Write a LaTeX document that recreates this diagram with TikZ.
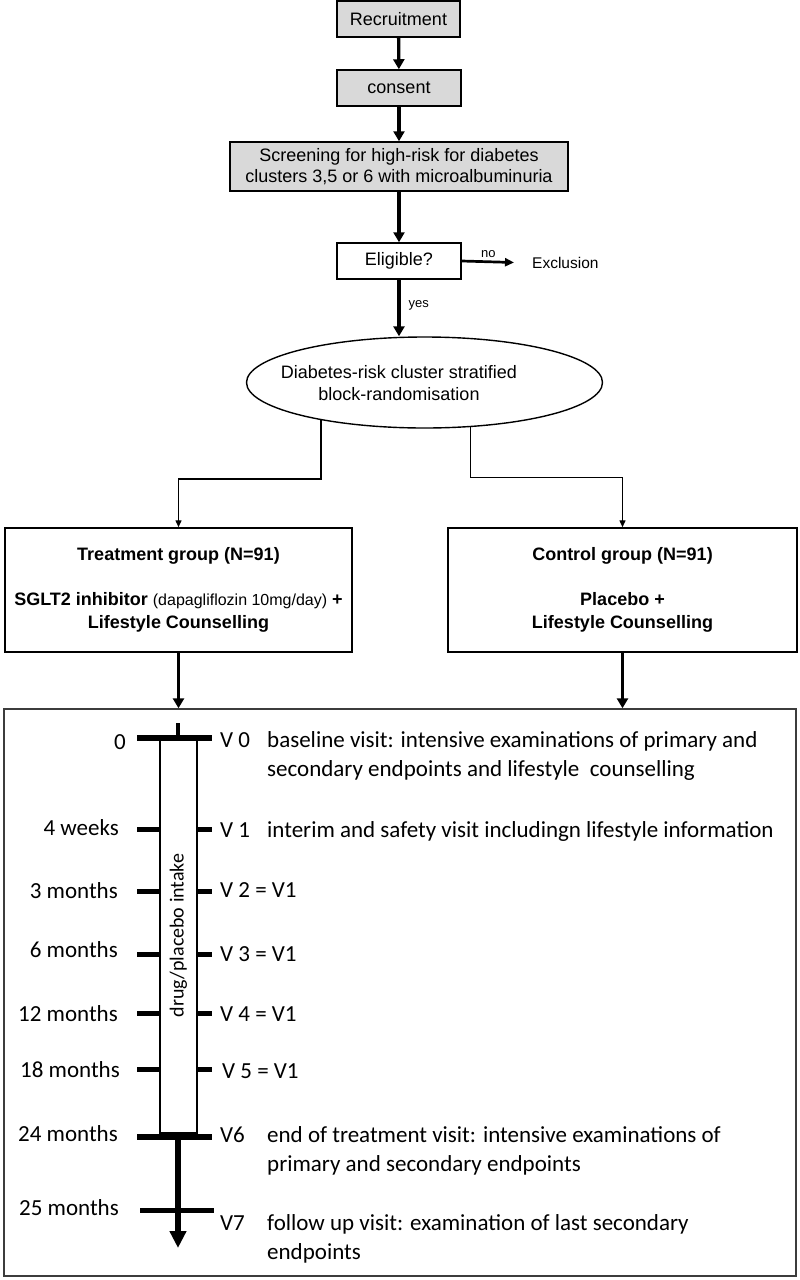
\documentclass[tikz,border=0pt]{standalone}
\usepackage{fontspec}
\setmainfont{Liberation Sans}
\newfontfamily\calfont{Carlito}
\usetikzlibrary{arrows.meta,shapes.geometric}
\definecolor{boxgray}{RGB}{217,217,217}
\definecolor{frame}{RGB}{60,60,60}
\begin{document}
\begin{tikzpicture}[x=1pt,y=-1pt,
  box/.style={draw=black, line width=1.5pt, inner sep=0pt, align=center,
    font=\fontsize{18}{21}\selectfont},
  graybox/.style={box, fill=boxgray},
  grpbox/.style={draw=black, line width=1.5pt, inner sep=0pt, align=center,
    font=\bfseries\fontsize{18}{22.5}\selectfont},
  arr/.style={line width=3.3pt, -{Triangle[length=10pt,width=11pt]}},
  midarr/.style={line width=2.7pt, -{Triangle[length=9pt,width=8pt]}},
  thinarr/.style={line width=1.4pt, -{Triangle[length=7pt,width=6pt]}},
  tickline/.style={line width=5pt},
  small/.style={font=\fontsize{13}{15}\selectfont, inner sep=0pt},
  leftlab/.style={anchor=base east, inner sep=0pt, font=\calfont\fontsize{23}{29}\selectfont},
  vlab/.style={anchor=base west, inner sep=0pt, font=\calfont\fontsize{23}{29}\selectfont},
  desc/.style={anchor=north west, inner sep=0pt, align=left, font=\calfont\fontsize{23}{29}\selectfont}
]
\useasboundingbox (0,0) rectangle (800,1280);

% top flow
\node[graybox, minimum width=123pt, minimum height=36pt] (rec) at (398.5,19) {Recruitment};
\node[graybox, minimum width=124pt, minimum height=36pt] (con) at (399,88) {consent};
\node[graybox, minimum width=338pt, minimum height=49pt] (scr) at (399,166.5)
  {Screening for high-risk for diabetes\\clusters 3,5 or 6 with microalbuminuria};
\node[box, fill=white, minimum width=124pt, minimum height=36pt] (eli) at (399,261) {Eligible?};
\node[anchor=west, inner sep=0pt, font=\fontsize{15.5}{18}\selectfont] (exc) at (532,263) {Exclusion};
\node[ellipse, draw=black, line width=1.4pt, minimum width=356pt, minimum height=91pt, inner sep=0pt] (ell) at (424.5,382.5) {};
\node[align=center, inner sep=0pt, font=\fontsize{18}{22}\selectfont] (elltxt) at (399,383)
  {Diabetes-risk cluster stratified\\block-randomisation};

\draw[arr] (rec) -- (con);
\draw[arr] (con) -- (scr);
\draw[arr] (scr) -- (eli);
\draw[midarr, shorten >=18pt] (eli.east) -- node[small, pos=0.38, anchor=base, yshift=4pt] {no} (exc.west);
\draw[arr] (eli.south) -- node[small, pos=0.45, anchor=west, xshift=8pt] {yes} (eli.south |- ell.north);

% groups
\node[grpbox, minimum width=347pt, minimum height=124pt] (trt) at (178.5,590)
  {Treatment group (N=91)\\[22.5pt]
   SGLT2 inhibitor {\mdseries\fontsize{16}{22.5}\selectfont(dapagliflozin 10mg/day)} +\\
   Lifestyle Counselling};
\node[grpbox, minimum width=349pt, minimum height=124pt] (ctl) at (622.5,590)
  {Control group (N=91)\\[22.5pt]
   Placebo +\\
   Lifestyle Counselling};

\draw[thinarr] (ell.200) -- ++(0,59) -| (trt.north);
\draw[thinarr] (ell.-44) -- ++(0,50.5) -| (ctl.north);

% timeline frame
\node[draw=frame, line width=1.4pt, minimum width=792pt, minimum height=567pt, inner sep=0pt] (big) at (400,992.5) {};
\draw[arr] (trt.south) -- (trt.south |- big.north);
\draw[arr] (ctl.south) -- (ctl.south |- big.north);

% drug bar
\node[draw=black, line width=2.6pt, rotate=90, minimum width=395pt, minimum height=37pt, inner sep=0pt,
  font=\calfont\fontsize{20}{24}\selectfont] (bar) at (178.5,935.5) {drug/placebo intake};

\draw[line width=4pt] (178,723) -- (178,738);
\draw[line width=6pt] (137,738) -- (212,738);
\foreach \yy in {829,891,954,1013,1069}{
  \draw[tickline] (137,\yy) -- (160,\yy);
  \draw[tickline] (197,\yy) -- (212,\yy);
}
\draw[line width=6pt, -{Triangle[length=17pt,width=16pt]}] (178,1133) -- (178,1248);
\draw[line width=6pt] (137,1137) -- (212,1137);
\draw[tickline] (140,1210) -- (214,1210);

% left labels
\node[leftlab] at (126,749) {0};
\node[leftlab] at (119,835) {4 weeks};
\node[leftlab] at (118,898) {3 months};
\node[leftlab] at (118,957) {6 months};
\node[leftlab] at (118,1021) {12 months};
\node[leftlab] at (120,1077) {18 months};
\node[leftlab] at (118,1141) {24 months};
\node[leftlab] at (119,1215) {25 months};

% visit labels
\node[vlab] at (220,747) {V 0};
\node[vlab] at (220,837) {V 1};
\node[vlab] at (220,897) {V 2 = V1};
\node[vlab] at (220,961) {V 3 = V1};
\node[vlab] at (220,1021) {V 4 = V1};
\node[vlab] at (222,1078) {V 5 = V1};
\node[vlab] at (220,1142) {V6};
\node[vlab] at (220,1230) {V7};

\node[desc] at (267,727) {\rule{0pt}{20pt}baseline visit: intensive examinations of primary and\\secondary endpoints and lifestyle\ \ counselling};
\node[vlab] at (267,837) {interim and safety visit includingn lifestyle information};
\node[desc] at (267,1122) {\rule{0pt}{20pt}end of treatment visit: intensive examinations of\\primary and secondary endpoints};
\node[desc] at (267,1210) {\rule{0pt}{20pt}follow up visit: examination of last secondary\\endpoints};
\end{tikzpicture}
\end{document}
